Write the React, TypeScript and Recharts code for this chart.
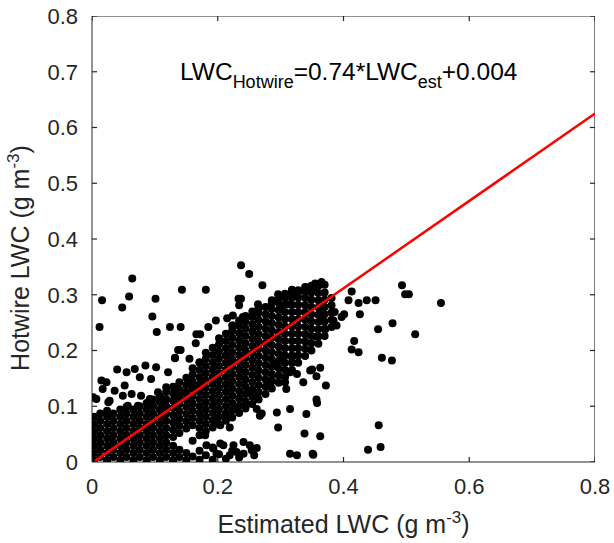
import { ScatterChart, Scatter, XAxis, YAxis } from 'recharts';

const X_TICKS = [0, 0.2, 0.4, 0.6, 0.8];
const Y_TICKS = [0, 0.1, 0.2, 0.3, 0.4, 0.5, 0.6, 0.7, 0.8];
const X_MAX = 0.8;
const Y_MAX = 0.8;

// regression line as drawn (end points)
const fitLine = [
  { x: 0.005, y: 0.002 },
  { x: 0.8, y: 0.625 },
];

// dense core of the cloud: column x -> y values
const coreColumns: [number, number[]][] = [
  [0.003, [0.003, 0.016, 0.029, 0.042, 0.055, 0.068, 0.081]],
  [0.013, [0.009, 0.022, 0.035, 0.048, 0.061, 0.074, 0.087]],
  [0.024, [0.003, 0.016, 0.029, 0.042, 0.055, 0.068, 0.081, 0.092]],
  [0.034, [0.009, 0.022, 0.035, 0.048, 0.061, 0.074, 0.087]],
  [0.045, [0.003, 0.016, 0.029, 0.042, 0.055, 0.068, 0.081, 0.094]],
  [0.055, [0.009, 0.022, 0.035, 0.048, 0.061, 0.074, 0.087, 0.099]],
  [0.066, [0.003, 0.016, 0.029, 0.042, 0.055, 0.068, 0.081, 0.094]],
  [0.076, [0.009, 0.022, 0.035, 0.048, 0.061, 0.074, 0.087, 0.1]],
  [0.087, [0.003, 0.016, 0.029, 0.042, 0.055, 0.068, 0.081, 0.094, 0.106]],
  [0.097, [0.009, 0.022, 0.035, 0.048, 0.061, 0.074, 0.087, 0.1, 0.112]],
  [0.108, [0.003, 0.016, 0.029, 0.042, 0.055, 0.068, 0.081, 0.094, 0.107, 0.118]],
  [0.118, [0.009, 0.022, 0.035, 0.048, 0.061, 0.074, 0.087, 0.1, 0.113, 0.126]],
  [0.129, [0.003, 0.016, 0.029, 0.045, 0.058, 0.071, 0.084, 0.097, 0.11, 0.123, 0.135]],
  [0.139, [0.009, 0.022, 0.052, 0.065, 0.078, 0.091, 0.104, 0.117, 0.13, 0.143]],
  [0.15, [0.003, 0.016, 0.06, 0.073, 0.086, 0.099, 0.112, 0.125, 0.138, 0.151]],
  [0.16, [0.01, 0.038, 0.066, 0.079, 0.092, 0.105, 0.118, 0.131, 0.144, 0.157, 0.168]],
  [0.171, [0.004, 0.02, 0.048, 0.061, 0.074, 0.087, 0.1, 0.113, 0.126, 0.139, 0.152, 0.165, 0.178]],
  [0.181, [0.012, 0.055, 0.068, 0.081, 0.094, 0.107, 0.12, 0.133, 0.146, 0.159, 0.172, 0.185, 0.196]],
  [0.192, [0.004, 0.026, 0.062, 0.075, 0.088, 0.101, 0.114, 0.127, 0.14, 0.153, 0.166, 0.179, 0.192, 0.205]],
  [0.202, [0.014, 0.068, 0.081, 0.094, 0.107, 0.12, 0.133, 0.146, 0.159, 0.172, 0.185, 0.198, 0.211, 0.222]],
  [0.213, [0.006, 0.074, 0.087, 0.1, 0.113, 0.126, 0.139, 0.152, 0.165, 0.178, 0.191, 0.204, 0.217, 0.23]],
  [0.223, [0.02, 0.08, 0.093, 0.106, 0.119, 0.132, 0.145, 0.158, 0.171, 0.184, 0.197, 0.21, 0.223, 0.236, 0.245]],
  [0.234, [0.008, 0.088, 0.101, 0.114, 0.127, 0.14, 0.153, 0.166, 0.179, 0.192, 0.205, 0.218, 0.231, 0.244, 0.254]],
  [0.244, [0.096, 0.109, 0.122, 0.135, 0.148, 0.161, 0.174, 0.187, 0.2, 0.213, 0.226, 0.239, 0.252, 0.262]],
  [0.255, [0.104, 0.117, 0.13, 0.143, 0.156, 0.169, 0.182, 0.195, 0.208, 0.221, 0.234, 0.247, 0.26, 0.27]],
  [0.265, [0.112, 0.125, 0.138, 0.151, 0.164, 0.177, 0.19, 0.203, 0.216, 0.229, 0.242, 0.255, 0.268, 0.276]],
  [0.276, [0.122, 0.135, 0.148, 0.161, 0.174, 0.187, 0.2, 0.213, 0.226, 0.239, 0.252, 0.265, 0.278]],
  [0.286, [0.132, 0.145, 0.158, 0.171, 0.184, 0.197, 0.21, 0.223, 0.236, 0.249, 0.262, 0.275, 0.286]],
  [0.297, [0.142, 0.155, 0.168, 0.181, 0.194, 0.207, 0.22, 0.233, 0.246, 0.259, 0.272, 0.285, 0.295]],
  [0.307, [0.152, 0.165, 0.178, 0.191, 0.204, 0.217, 0.23, 0.243, 0.256, 0.269, 0.282, 0.295, 0.302]],
  [0.318, [0.165, 0.178, 0.191, 0.204, 0.217, 0.23, 0.243, 0.256, 0.269, 0.282, 0.295, 0.306]],
  [0.328, [0.178, 0.191, 0.204, 0.217, 0.23, 0.243, 0.256, 0.269, 0.282, 0.295, 0.308]],
  [0.339, [0.19, 0.203, 0.216, 0.229, 0.242, 0.255, 0.268, 0.281, 0.294, 0.306, 0.314]],
  [0.349, [0.2, 0.213, 0.226, 0.239, 0.252, 0.265, 0.278, 0.291, 0.304, 0.316]],
  [0.36, [0.212, 0.225, 0.238, 0.251, 0.264, 0.277, 0.29, 0.303, 0.316]],
  [0.37, [0.226, 0.239, 0.252, 0.265, 0.278, 0.291, 0.304, 0.318]],
  [0.381, [0.242, 0.255, 0.268, 0.281, 0.294]],
];

// scattered points around the core
const loosePoints: [number, number][] = [
  [0.016, 0.29], [0.012, 0.242], [0.064, 0.329], [0.059, 0.297], [0.048, 0.277],
  [0.101, 0.293], [0.096, 0.261], [0.103, 0.233], [0.143, 0.309], [0.181, 0.309],
  [0.124, 0.242], [0.141, 0.242], [0.166, 0.229], [0.172, 0.229], [0.165, 0.213],
  [0.137, 0.201], [0.141, 0.201], [0.132, 0.187],
  [0.237, 0.353], [0.25, 0.337], [0.271, 0.317], [0.233, 0.293], [0.237, 0.293],
  [0.234, 0.281], [0.318, 0.309], [0.328, 0.305], [0.344, 0.313], [0.355, 0.32],
  [0.296, 0.301], [0.286, 0.29], [0.264, 0.283], [0.299, 0.276], [0.313, 0.283],
  [0.24, 0.26], [0.224, 0.263], [0.215, 0.258], [0.197, 0.254], [0.185, 0.242], [0.224, 0.245],
  [0.365, 0.323], [0.357, 0.317], [0.352, 0.311], [0.493, 0.317], [0.498, 0.301],
  [0.504, 0.301], [0.555, 0.285], [0.413, 0.306], [0.408, 0.29], [0.424, 0.285],
  [0.437, 0.29], [0.451, 0.29], [0.426, 0.265], [0.401, 0.265], [0.397, 0.26],
  [0.386, 0.269], [0.384, 0.254], [0.389, 0.245], [0.371, 0.238], [0.357, 0.225],
  [0.364, 0.254], [0.363, 0.266], [0.455, 0.238], [0.478, 0.249], [0.514, 0.229],
  [0.417, 0.217], [0.413, 0.202], [0.424, 0.197], [0.461, 0.187], [0.477, 0.182],
  [0.35, 0.166], [0.363, 0.169], [0.357, 0.154], [0.372, 0.137], [0.357, 0.112],
  [0.358, 0.106], [0.456, 0.066], [0.363, 0.046], [0.351, 0.015], [0.439, 0.022], [0.459, 0.027],
  [0.347, 0.164], [0.336, 0.143], [0.315, 0.161], [0.326, 0.158], [0.307, 0.143],
  [0.309, 0.131], [0.315, 0.095], [0.294, 0.089], [0.341, 0.086], [0.296, 0.062],
  [0.338, 0.051], [0.264, 0.113], [0.246, 0.103], [0.23, 0.095], [0.262, 0.095],
  [0.267, 0.083], [0.27, 0.087], [0.251, 0.127], [0.315, 0.015], [0.326, 0.012],
  [0.352, 0.013], [0.286, 0.146], [0.28, 0.14], [0.294, 0.176], [0.299, 0.182], [0.318, 0.188],
  [0.241, 0.036], [0.251, 0.03], [0.254, 0.021], [0.241, 0.015], [0.225, 0.03],
  [0.23, 0.018], [0.219, 0.012], [0.204, 0.033], [0.209, 0.03], [0.193, 0.024],
  [0.198, 0.015], [0.182, 0.03], [0.18, 0.048], [0.214, 0.08], [0.219, 0.062],
  [0.204, 0.066], [0.196, 0.075], [0.262, 0.025], [0.258, 0.012],
  [0.04, 0.166], [0.055, 0.161], [0.068, 0.167], [0.085, 0.173], [0.102, 0.17],
  [0.121, 0.161], [0.132, 0.186], [0.155, 0.185], [0.171, 0.179], [0.015, 0.146],
  [0.023, 0.143], [0.052, 0.137], [0.076, 0.152], [0.094, 0.149], [0.118, 0.134],
  [0.134, 0.134], [0.153, 0.14], [0.007, 0.113], [0.017, 0.131], [0.028, 0.11],
  [0.036, 0.128], [0.049, 0.119], [0.063, 0.122], [0.078, 0.119], [0.057, 0.101],
  [0.073, 0.101], [0.092, 0.113], [0.105, 0.125], [0.116, 0.107], [0.132, 0.116],
  [0.147, 0.125], [0.163, 0.131], [0.002, 0.116], [0.026, 0.107],
];

const points = [
  ...coreColumns.flatMap(([x, ys]) => ys.map((y) => ({ x, y }))),
  ...loosePoints.map(([x, y]) => ({ x, y })),
];

const INK = '#262626';
const FONT = '"Liberation Sans", Arial, Helvetica, sans-serif';
// inward tick length in data units (about 5 px)
const TICK_DX = 0.008;
const TICK_DY = 0.009;

// plot box (top and right edges) and the inward tick marks, as short line series
const boxEdge = [
  { x: 0, y: Y_MAX },
  { x: X_MAX, y: Y_MAX },
  { x: X_MAX, y: 0 },
];
const tickSegments = [
  ...X_TICKS.map((v) => [{ x: v, y: 0 }, { x: v, y: TICK_DY }]),
  ...X_TICKS.map((v) => [{ x: v, y: Y_MAX - TICK_DY }, { x: v, y: Y_MAX }]),
  ...Y_TICKS.map((v) => [{ x: 0, y: v }, { x: TICK_DX, y: v }]),
  ...Y_TICKS.map((v) => [{ x: X_MAX - TICK_DX, y: v }, { x: X_MAX, y: v }]),
];

const Dot = (props: any) => <circle cx={props.cx} cy={props.cy} r={4} fill="#000" />;
const NoDot = () => <g />;
const fmt = (v: number) => String(v);

const tickFont = { fill: INK, fontSize: 22, fontFamily: FONT };

const XTitle = (props: any) => {
  const vb = props.viewBox;
  return (
    <text x={vb.x + vb.width / 2} y={vb.y + 71} fontSize={25} textAnchor="middle" fill={INK} fontFamily={FONT}>
      <tspan>Estimated LWC (g m</tspan>
      <tspan fontSize={17} dy={-10}>-3</tspan>
      <tspan dy={10}>)</tspan>
    </text>
  );
};

const YTitle = (props: any) => {
  const vb = props.viewBox;
  const cy = vb.y + vb.height / 2 + 19;
  return (
    <g>
      <text
        x={0}
        y={0}
        fontSize={25}
        textAnchor="middle"
        fill={INK}
        fontFamily={FONT}
        transform={`translate(${vb.x - 1} ${cy}) rotate(-90)`}
      >
        <tspan>Hotwire LWC (g m</tspan>
        <tspan fontSize={17} dy={-10}>-3</tspan>
        <tspan dy={10}>)</tspan>
      </text>
      <text x={vb.x + vb.width + 88} y={vb.y + 64} fontSize={24.5} fill="#000" fontFamily={FONT}>
        <tspan>LWC</tspan>
        <tspan fontSize={18} dy={8}>Hotwire</tspan>
        <tspan dy={-8}>=0.74*LWC</tspan>
        <tspan fontSize={18} dy={8}>est</tspan>
        <tspan dy={-8}>+0.004</tspan>
      </text>
    </g>
  );
};

export default function App() {
  return (
    <div style={{ position: 'absolute', left: 0, top: 0, width: 614, height: 543, background: '#fff' }}>
      <ScatterChart width={614} height={543} margin={{ top: 16, right: 19, bottom: 51, left: 30 }}>
        <XAxis
          dataKey="x"
          type="number"
          domain={[0, X_MAX]}
          ticks={X_TICKS}
          allowDataOverflow
          height={30}
          tickFormatter={fmt}
          tickLine={false}
          tickMargin={10}
          axisLine={{ stroke: INK }}
          tick={tickFont}
          label={{ content: XTitle }}
        />
        <YAxis
          dataKey="y"
          type="number"
          domain={[0, Y_MAX]}
          ticks={Y_TICKS}
          allowDataOverflow
          width={62}
          tickFormatter={fmt}
          tickLine={false}
          tickMargin={8}
          axisLine={{ stroke: INK }}
          tick={tickFont}
          label={{ content: YTitle }}
        />
        <Scatter data={points} shape={Dot} isAnimationActive={false} />
        <Scatter
          data={boxEdge}
          shape={NoDot}
          line={{ stroke: INK, strokeWidth: 1.2 }}
          isAnimationActive={false}
        />
        {tickSegments.map((seg, i) => (
          <Scatter
            key={`tick${i}`}
            data={seg}
            shape={NoDot}
            line={{ stroke: INK, strokeWidth: 1.2 }}
            isAnimationActive={false}
          />
        ))}
        <Scatter
          data={fitLine}
          shape={NoDot}
          line={{ stroke: '#ff0000', strokeWidth: 2.5 }}
          isAnimationActive={false}
        />
      </ScatterChart>
    </div>
  );
}
